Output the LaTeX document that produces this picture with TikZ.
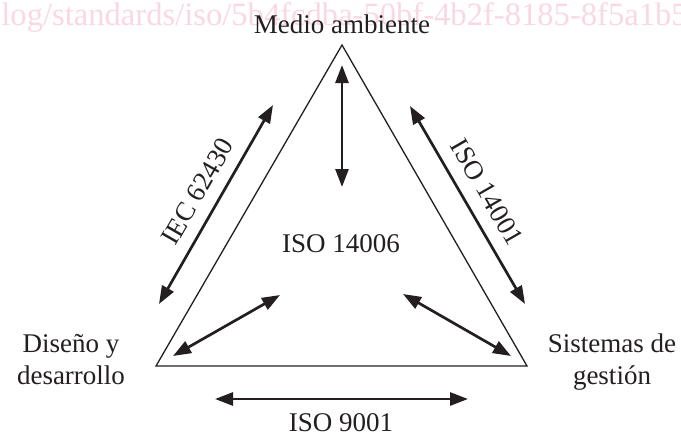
\documentclass[tikz,border=0pt]{standalone}
\usepackage{fontspec}
\setmainfont{Liberation Serif}
\usetikzlibrary{arrows.meta}
\definecolor{wmpink}{RGB}{249,216,228}
\definecolor{ink}{RGB}{35,31,32}

\begin{document}
\begin{tikzpicture}[x = 0.5pt, y = -0.5pt,
	lbl/.style = {font = \fontsize{13.5}{16}\selectfont, text = ink, inner sep = 0, align = center},
	dbl/.style = {{Triangle[length = 9pt, width = 6.5pt]}-{Triangle[length = 9pt, width = 6.5pt]}, line width = 1.35pt, ink}]
	%	canvas
	\useasboundingbox (0, 0) rectangle (681, 434);
	\clip (0, 0) rectangle (681, 434);
	
	%	watermark
	\node[anchor = base west, inner sep = 0, text = wmpink, font = \fontsize{16.3}{19}\selectfont] (wm) at (1, 25) {log/standards/iso/5b4fcdba-50bf-4b2f-8185-8f5a1b51};
	
	%	triangle
	\coordinate (A) at (342, 45);
	\coordinate (B) at (156, 366);
	\coordinate (C) at (527, 366);
	\draw[ink, line width = 0.65pt] (A) -- (B) -- (C) -- cycle;
	
	%	corners
	\node[lbl, anchor = base] (medio) at (342, 33) {Medio ambiente};
	\node[lbl] (diseno) at (71, 360) {Diseño y\\desarrollo};
	\node[lbl] (sistemas) at (612, 362) {Sistemas de\\gestión};
	\node[lbl, anchor = base] (centro) at (341, 252) {ISO 14006};
	
	%	sides
	\node[lbl, rotate = 60] (iec) at (197.5, 191.5) {IEC 62430};
	\node[lbl, rotate = -60] (iso14001) at (487, 192) {ISO 14001};
	\node[lbl, anchor = base] (iso9001) at (341, 431) {ISO 9001};
	
	%	arrow ends
	\coordinate (v1) at (342, 65);
	\coordinate (v2) at (342, 187);
	\coordinate (l1) at (159, 304);
	\coordinate (l2) at (273, 105);
	\coordinate (r1) at (410, 106);
	\coordinate (r2) at (525, 304);
	\coordinate (bl1) at (173, 356);
	\coordinate (bl2) at (280, 295);
	\coordinate (br1) at (403, 294);
	\coordinate (br2) at (511, 356);
	\coordinate (b1) at (215, 399);
	\coordinate (b2) at (468, 399);
	
	%	arrows
	\draw[dbl] (v1) -- (v2);
	\draw[dbl] (l1) -- (l2);
	\draw[dbl] (r1) -- (r2);
	\draw[dbl] (bl1) -- (bl2);
	\draw[dbl] (br1) -- (br2);
	\draw[dbl] (b1) -- (b2);
\end{tikzpicture}
\end{document}
